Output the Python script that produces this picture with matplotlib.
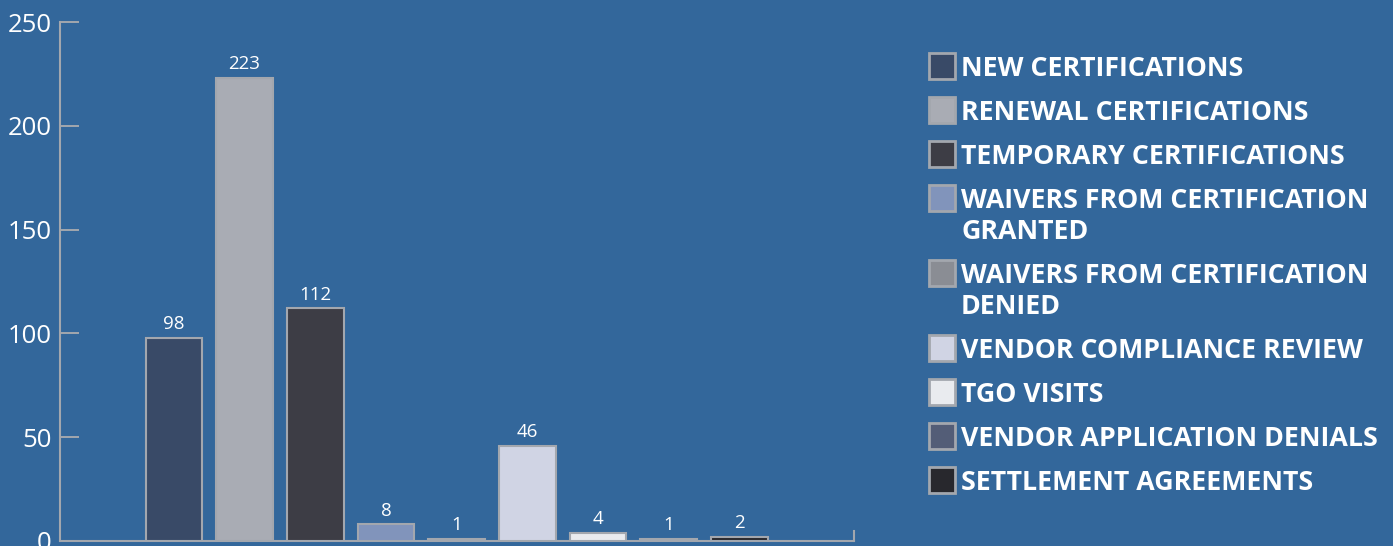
import matplotlib
matplotlib.use("Agg")
import matplotlib.pyplot as plt
from matplotlib.patches import Rectangle

# chart data
categories = ["NEW CERTIFICATIONS", "RENEWAL CERTIFICATIONS", "TEMPORARY CERTIFICATIONS",
              "WAIVERS FROM CERTIFICATION\nGRANTED", "WAIVERS FROM CERTIFICATION\nDENIED",
              "VENDOR COMPLIANCE REVIEW", "TGO VISITS", "VENDOR APPLICATION DENIALS",
              "SETTLEMENT AGREEMENTS"]
values = [98, 223, 112, 8, 1, 46, 4, 1, 2]
colors = ["#394a67", "#a9acb4", "#3d3d45", "#8194bb", "#8a8d94",
          "#d0d4e4", "#e9ebef", "#535d77", "#28282d"]
yticks = [0, 50, 100, 150, 200, 250]

bg = "#33679b"
edge = "#a3a7ae"

plt.rcParams['font.family'] = ['Open Sans', 'DejaVu Sans']

fig = plt.figure(figsize=(13.93, 5.46), dpi=100, facecolor=bg)
W, H = 1393, 546
ax = fig.add_axes([60 / W, 5 / H, 794 / W, 519 / H])
ax.set_facecolor(bg)

x = list(range(len(values)))
bars = ax.bar(x, values, width=0.8, color=colors, edgecolor=edge, linewidth=1.5, zorder=3)
for b, v in zip(bars, values):
    ax.text(b.get_x() + b.get_width() / 2, v + 2.2, str(v), ha='center', va='bottom',
            color='white', fontsize=13.5)

ax.set_xlim(-1.61, 9.62)
ax.set_ylim(0, 250)
ax.set_yticks(yticks)
ax.set_xticks([])
ax.tick_params(axis='y', direction='in', length=14, width=1.4, color=edge,
               labelcolor='white', labelsize=18.5, pad=6)
ax.spines['top'].set_visible(False)
for s in ['left', 'bottom', 'right']:
    ax.spines[s].set_color(edge)
    ax.spines[s].set_linewidth(1.5)
ax.spines['right'].set_bounds(0, 5)

# legend built by hand so the wrapped entries line up like the original
ypix = 66
for lab, c in zip(categories, colors):
    fig.patches.append(Rectangle((929 / W, 1 - (ypix + 13) / H), 26 / W, 26 / H,
                                 transform=fig.transFigure, facecolor=c,
                                 edgecolor=edge, linewidth=2))
    lines = lab.count("\n") + 1
    fig.text(961 / W, 1 - (ypix - 10) / H, lab, ha='left', va='top', color='white',
             fontsize=19.3, fontweight='bold', linespacing=1.26)
    ypix += 44 + 31 * (lines - 1)

fig.savefig("out.png", dpi=100, facecolor=bg)
